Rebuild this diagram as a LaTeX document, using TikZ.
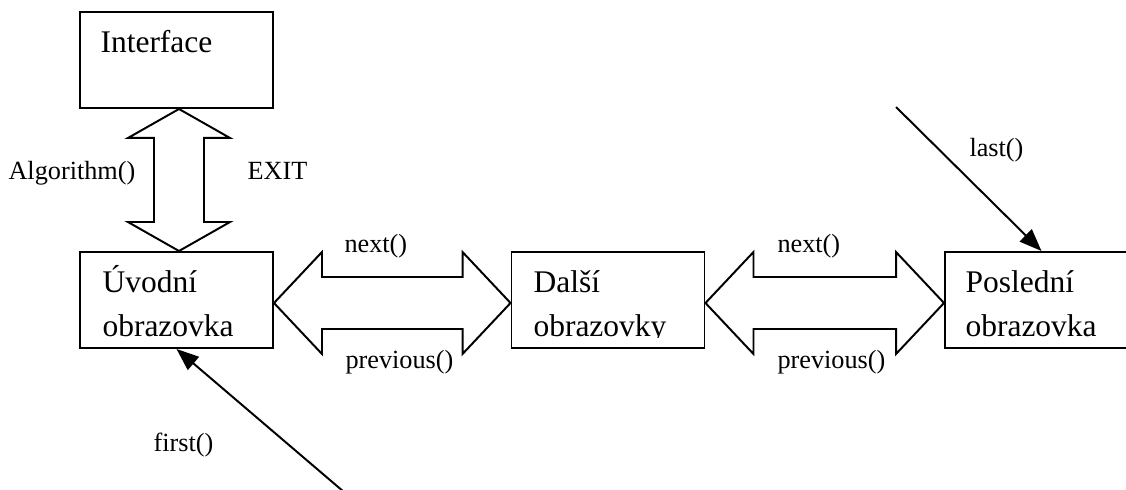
\documentclass[tikz,border=0pt]{standalone}
\usepackage{fontspec}
\setmainfont{Liberation Serif}
\usetikzlibrary{arrows.meta,calc}
\begin{document}
\begin{tikzpicture}[x=0.381pt,y=-0.381pt,
  box/.style={draw,line width=0.75pt,rectangle,minimum width=193*0.381pt,
    minimum height=96*0.381pt,inner sep=0pt},
  boxtext/.style={anchor=base west,inner sep=0pt,font=\fontsize{12}{14}\selectfont},
  lbl/.style={anchor=base west,inner sep=0pt,font=\fontsize{10}{12}\selectfont},
  blockarrow/.style={draw,fill=white,line width=0.75pt,line join=miter},
  ptr/.style={draw,line width=0.75pt,-{Triangle[length=8.5pt,width=6.5pt]}}]
\useasboundingbox (0,0) rectangle (1126,490);
\clip (0,0) rectangle (1126,490);

% screens
\node[box] (iface) at (176.5,60) {};
\node[box] (uvod)  at (176.5,300) {};
\node[box] (dalsi) at (608,300) {};
\node[box] (posl)  at (1041.5,300) {};

% screen captions
\node[boxtext] (ifaceT) at (100,53) {Interface};
\node[boxtext] (uvodA) at (102,293) {Úvodní};
\node[boxtext] (uvodB) at (102,336) {obrazovka};
\node[boxtext] (dalsiA) at (533,293) {Další};
\begin{scope}
  \clip (512,250) rectangle (704,337.5);
  \node[boxtext] (dalsiB) at (533,336) {obrazovky};
\end{scope}
\node[boxtext] (poslA) at (965,293) {Poslední};
\node[boxtext] (poslB) at (965,336) {obrazovka};

% vertical block arrow: Interface <-> Úvodní obrazovka
\coordinate (vt) at ($(iface.south)+(2.5,0)$);
\coordinate (vb) at ($(uvod.north)+(2.5,0)$);
\draw[blockarrow] (vt) -- ($(vt)+(51,29)$) -- ($(vt)+(25,29)$)
  -- ($(vb)+(25,-29)$) -- ($(vb)+(51,-29)$) -- (vb)
  -- ($(vb)+(-51,-29)$) -- ($(vb)+(-25,-29)$)
  -- ($(vt)+(-25,29)$) -- ($(vt)+(-51,29)$) -- cycle;

% horizontal block arrows between the screens
\coordinate (h1l) at ($(uvod.east)+(0,3)$);
\coordinate (h1r) at ($(dalsi.west)+(0,3)$);
\coordinate (h2l) at ($(dalsi.east)+(0,3)$);
\coordinate (h2r) at ($(posl.west)+(0,3)$);
\foreach \l/\r in {h1l/h1r,h2l/h2r}{
  \draw[blockarrow] (\l) -- ($(\l)+(48,-51)$) -- ($(\l)+(48,-26)$)
    -- ($(\r)+(-48,-26)$) -- ($(\r)+(-48,-51)$) -- (\r)
    -- ($(\r)+(-48,51)$) -- ($(\r)+(-48,26)$)
    -- ($(\l)+(48,26)$) -- ($(\l)+(48,51)$) -- cycle;
}

% entry pointers
\coordinate (lastsrc) at (896,107);
\coordinate (firstsrc) at (344,492);
\draw[ptr] (lastsrc) -- (posl.north);
\draw[ptr] (firstsrc) -- (uvod.south);

% labels
\node[lbl] (lalg) at (8,180) {Algorithm()};
\node[lbl] (lexit) at (247,180) {EXIT};
\node[lbl] (lnext1) at (344,252) {next()};
\node[lbl] (lprev1) at (345,368) {previous()};
\node[lbl] (lnext2) at (777,252) {next()};
\node[lbl] (lprev2) at (777,368) {previous()};
\node[lbl] (llast) at (969,157) {last()};
\node[lbl] (lfirst) at (153,451) {first()};
\end{tikzpicture}
\end{document}
